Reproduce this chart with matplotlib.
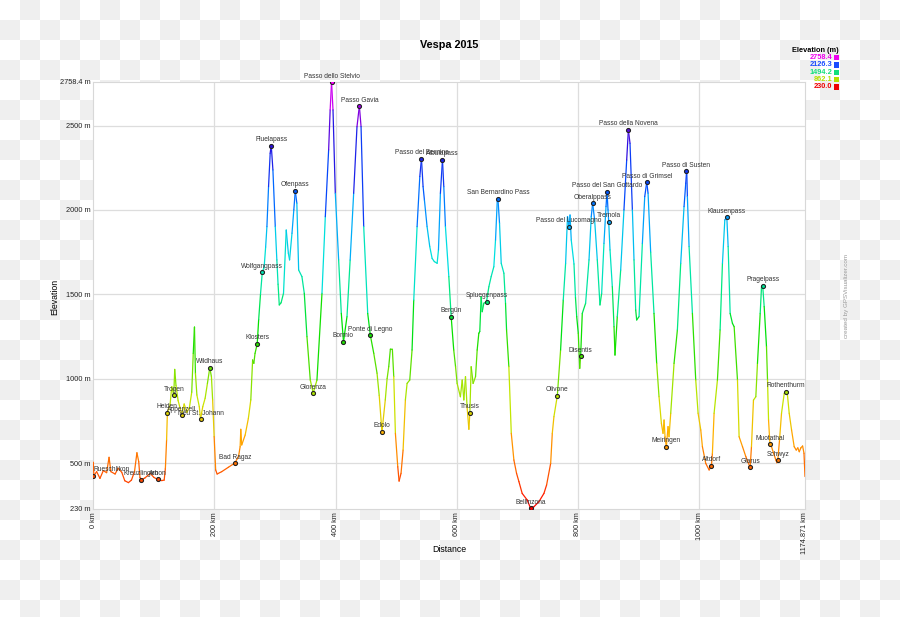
import numpy as np
import matplotlib
matplotlib.use("Agg")
import matplotlib.pyplot as plt
from matplotlib.collections import LineCollection
from matplotlib.colors import LinearSegmentedColormap, Normalize
from matplotlib.patches import Rectangle

plt.rcParams['font.family'] = ['Liberation Sans', 'DejaVu Sans']

# ---------------- data ----------------
dist_km = [0, 1, 5.5, 11, 16.5, 22, 26, 29, 36, 41, 47, 52, 58, 63, 68, 72, 75, 77, 79, 85, 94, 100, 106, 113, 117, 119, 121,
           122.3, 126.7, 129.5, 132.8, 134.4, 136.5, 140, 143, 146, 150, 154.5, 158.7, 162.5, 165, 167, 168.6, 171, 175, 177,
           180.7, 184.6, 188.4, 192.3, 195, 197, 199.5, 202, 204.4, 212, 223, 233.6, 239.7, 242.4, 243.5, 245, 250.7, 256,
           260, 263, 265, 267, 270.6, 273, 276, 279, 282, 284.5, 286.6, 289.3, 292, 293.7, 296.5, 300.4, 303, 305, 307,
           310, 314, 318.5, 322, 324, 328, 331, 333.4, 336, 339, 344.4, 348.3, 352.7, 358.2, 363, 369.2, 377.5, 383, 388.5,
           391, 393.3, 395.7, 399.5, 405, 409.4, 413, 418.8, 424, 429.8, 435.3, 439.2, 442, 446.4, 453, 457.4, 463, 468.4,
           472, 476.5, 482, 485, 487.7, 490.4, 493.7, 496, 498.7, 502.6, 504.8, 508, 511.4, 515.2, 518, 522.4, 526.2, 529,
           534.5, 539, 541.7, 544.4, 546.6, 551, 555.4, 559.3, 563, 567.6, 569.8, 573, 576.4, 578.6, 581.3, 586.9, 590.8,
           595, 598, 600.6, 606, 609, 611.7, 614.4, 617, 620, 621.6, 623.8, 627, 631, 633.7, 636.4, 638, 640.3, 642, 644.7,
           649.1, 653, 656.8, 661.2, 664, 666.8, 668, 670.6, 673.4, 677.8, 680.5, 682.2, 686, 690, 694.3, 698.7, 702.6, 708,
           716.3, 721.9, 727.4, 735.6, 743.9, 748.3, 755, 757.7, 760.4, 766, 771.4, 775.8, 779.7, 782.8, 785.2, 787, 789,
           793.5, 796, 798, 800.6, 803, 804.5, 807.2, 812.7, 818.3, 822, 824.3, 827.6, 832, 836.4, 839.2, 843, 846.4, 848,
           849.7, 850.8, 853, 856.8, 859.6, 861.2, 865, 870.6, 876, 880.5, 883.3, 886, 889.9, 892.6, 895.4, 897, 900.9, 906.4,
           910.3, 913.6, 915.8, 920.1, 925.6, 930, 933.9, 937.8, 940.5, 942.2, 943.8, 946, 948.8, 950.4, 953.2, 958.7, 964.2,
           969.7, 975.2, 978, 979.6, 980.7, 983.5, 989, 994.5, 998.4, 1002.8, 1005.5, 1011, 1016.6, 1020.4, 1022, 1024.8,
           1030.3, 1034.7, 1038.6, 1042.5, 1045.8, 1048, 1051.3, 1055.1, 1057.9, 1063.4, 1066.1, 1071.7, 1077.2, 1084.3,
           1086.5, 1089.8, 1093.7, 1096.4, 1100.9, 1103.1, 1105, 1107.5, 1111.3, 1113, 1114.7, 1117, 1119.6, 1123, 1126.8,
           1128.4, 1130, 1132.8, 1136.1, 1140.6, 1143.6, 1146, 1148.8, 1152.7, 1157, 1160.4, 1163, 1165.4, 1168, 1170.9,
           1173.2, 1174.871]
elev_m = [505, 425, 449, 409, 455, 443, 534, 449, 435, 469, 445, 395, 384, 399, 449, 561, 508, 415, 401, 411, 439, 415, 403, 396, 399, 469, 637,
          799, 844, 953, 901, 1055, 960, 870, 830, 783, 850, 800, 830, 920, 1150, 1306, 1032, 903, 834, 761,
          834, 884, 972, 1065, 1012, 874, 656, 459, 435, 449, 475, 500, 538, 597, 700, 607, 666, 765,
          874, 1111, 1091, 1150, 1206, 1350, 1500, 1632, 1660, 1780, 1901, 2138, 2336, 2385, 2237, 1901, 1704, 1560, 1437,
          1450, 1506, 1881, 1743, 1704, 1862, 2000, 2113, 2040, 1644, 1605, 1506, 1249, 992, 915, 992, 1506, 1960, 2356,
          2593, 2758, 2593, 2099, 1704, 1387, 1219, 1368, 1703, 2099, 2494, 2616, 2494, 1901, 1387, 1256, 1150, 1032,
          900, 684, 874, 1000, 1071, 1175, 1174, 1012, 676, 478, 393, 439, 577, 874, 972, 992, 1170, 1466,
          1901, 2198, 2304, 2138, 2059, 1901, 1783, 1713, 1694, 1684, 1763, 2099, 2298, 2138, 1901, 1605, 1366,
          1170, 1071, 972, 893, 992, 874, 1012, 834, 700, 797, 1071, 972, 1012, 1170, 1269, 1280, 1486, 1397, 1447,
          1457, 1545, 1605, 1664, 1822, 2049, 2066, 1921, 1684, 1625, 1447, 1289, 1071, 676, 518, 439, 390, 320,
          281, 232, 241, 271, 320, 370, 498, 676, 775, 899, 1170, 1466, 1684, 1961, 1901, 1970, 1822,
          1680, 1480, 1368, 1269, 1061, 1134, 1387, 1447, 1704, 1960, 2040, 1941, 1704, 1437, 1506, 1802, 2020, 2109,
          2000, 1931, 1763, 1545, 1308, 1140, 1368, 1644, 2000, 2296, 2474, 2395, 2000, 1704, 1407, 1348, 1368, 1802,
          2079, 2164, 2099, 1750, 1387, 1091, 893, 735, 676, 755, 656, 597, 716, 656, 795, 1091, 1289,
          1684, 2020, 2158, 2240, 2079, 1783, 1387, 992, 795, 696, 597, 498, 459, 484, 557, 795,
          992, 1289, 1684, 1941, 1957, 1783, 1387, 1328, 1308, 992, 656, 597, 538, 474,
          597, 873, 893, 1091, 1387, 1545, 1551, 1427, 1190, 992, 755, 611, 597, 558, 518,
          502, 518, 636, 795, 913, 923, 900, 795, 696, 597, 577, 590, 567, 590, 601,
          558, 420]

wp_names = ["Rueschlikon", "Kreuzlingen", "Arbon", "Heiden", "Trogen", "Appenzell", "Neu St. Johann", "Wildhaus",
            "Bad Ragaz", "Klosters", "Wolfgangpass", "Fluelapass", "Ofenpass", "Glorenza", "Passo dello Stelvio",
            "Bormio", "Passo Gavia", "Ponte di Legno", "Edolo", "Passo del Bernina", "Albulapass", "Bergün", "Thusis",
            "Spluegenpass", "San Bernardino Pass", "Bellinzona", "Olivone", "Passo del Lucomagno", "Disentis",
            "Oberalppass", "Passo del San Gottardo", "Tremola", "Passo della Novena", "Passo di Grimsel", "Meiringen",
            "Passo di Susten", "Altdorf", "Klausenpass", "Glarus", "Pragelpass", "Muotathal", "Schwyz", "Rothenthurm"]
wp_km = [0.3, 79, 106, 122.3, 132.8, 146, 177, 192.3, 233.6, 270.6, 279, 293.7, 333.4, 363, 393.3, 413, 439.2, 457.4,
         476.5, 541.7, 576.4, 590.8, 621.6, 649.1, 668, 721.9, 766, 785.2, 804.5, 824.3, 848, 850.8, 883.3, 913.6, 946,
         979.1, 1020.4, 1045.8, 1084.3, 1105, 1117, 1130, 1143.6]
wp_m = [425, 401, 403, 799, 901, 783, 761, 1065, 500, 1206, 1632, 2380, 2113, 915, 2758, 1219, 2616, 1256, 684, 2304,
        2298, 1366, 797, 1457, 2066, 232, 899, 1901, 1134, 2040, 2109, 1931, 2474, 2164, 597, 2229, 484, 1957, 474,
        1551, 611, 518, 923]

y_ticks = [230, 500, 1000, 1500, 2000, 2500, 2758.4]
y_tick_labels = ["230 m", "500 m", "1000 m", "1500 m", "2000 m", "2500 m", "2758.4 m"]
x_ticks = [0, 200, 400, 600, 800, 1000, 1174.871]
x_tick_labels = ["0 km", "200 km", "400 km", "600 km", "800 km", "1000 km", "1174.871 km"]
legend_values = ["2758.4", "2126.3", "1494.2", "862.1", "230.0"]
legend_colors = ["#ee00ee", "#1a4cff", "#12e07a", "#b4e000", "#ee0000"]

# ---------------- figure ----------------
W, H = 900, 617
fig = plt.figure(figsize=(W / 100, H / 100), dpi=100)

# transparency checkerboard background
bg = fig.add_axes([0, 0, 1, 1], zorder=-10)
ncol, nrow = 45, 31
ii, jj = np.meshgrid(np.arange(ncol), np.arange(nrow))
chk = ((ii + jj) % 2).astype(float)
bg.imshow(chk, cmap=LinearSegmentedColormap.from_list("chk", ["#ffffff", "#efefef"]),
          extent=[0, ncol * 20, nrow * 20, 0], interpolation="nearest", aspect="auto")
bg.set_xlim(0, W)
bg.set_ylim(H, 0)
bg.axis("off")

ax = fig.add_axes([93.3 / W, 1 - 508.6 / H, (805 - 93.3) / W, (508.6 - 82) / H])
ax.set_facecolor("white")
ymin, ymax = 230, 2758.4
ax.set_xlim(0, 1174.871)
ax.set_ylim(ymin, ymax)

for s in ax.spines.values():
    s.set_color("#d8d8d8")
    s.set_linewidth(0.8)

for v in [500, 1000, 1500, 2000, 2500]:
    ax.axhline(v, color="#dddddd", lw=0.9, zorder=0)
for v in [200, 400, 600, 800, 1000]:
    ax.axvline(v, color="#dddddd", lw=0.9, zorder=0)

ax.set_yticks(y_ticks)
ax.set_yticklabels(y_tick_labels, fontsize=5.3, color="#222222")
ax.set_xticks(x_ticks)
ax.set_xticklabels(x_tick_labels, fontsize=5.2, rotation=90, color="#222222")
ax.tick_params(axis="both", length=0)
ax.tick_params(axis="y", pad=2)
ax.tick_params(axis="x", pad=2.5)

cmap = LinearSegmentedColormap.from_list("elev", [
    (0.00, "#ff0000"), (0.10, "#ff6a00"), (0.18, "#ffb400"), (0.25, "#c8e600"),
    (0.35, "#4ee000"), (0.42, "#00e000"), (0.50, "#00e884"), (0.60, "#00e0e0"),
    (0.68, "#00a0ff"), (0.75, "#0050ff"), (0.85, "#2a10e0"), (0.93, "#8a00e0"),
    (1.00, "#ff00ff")])
norm = Normalize(ymin, ymax)

x = np.asarray(dist_km, float)
y = np.asarray(elev_m, float)
pts = np.column_stack([x, y]).reshape(-1, 1, 2)
segs = np.concatenate([pts[:-1], pts[1:]], axis=1)
lc = LineCollection(segs, cmap=cmap, norm=norm, linewidths=0.9, zorder=3, capstyle="round")
lc.set_array((y[:-1] + y[1:]) / 2)
ax.add_collection(lc)

for name, kx, ky in zip(wp_names, wp_km, wp_m):
    ax.plot(kx, ky, "o", ms=2.9, mfc=cmap(norm(ky)), mec="#222222", mew=0.8, zorder=5)
    ha = "left" if name == "Rueschlikon" else "center"
    ax.annotate(name, (kx, ky), xytext=(0, 1.8), textcoords="offset points",
                ha=ha, va="bottom", fontsize=4.8, color="#333333", zorder=6)

fig.text(449 / W, 1 - 549 / H, "Distance", ha="center", va="center", fontsize=6.3)
fig.text(55 / W, 1 - 297 / H, "Elevation", ha="center", va="center", fontsize=6.3, rotation=90)

fig.text(449 / W, 1 - 45 / H, "Vespa 2015", ha="center", va="center", fontsize=7.8, fontweight="bold")

# legend
fig.text(815 / W, 1 - 50 / H, "Elevation (m)", ha="center", va="center", fontsize=5.3, fontweight="bold")
for k, (lv, lcol) in enumerate(zip(legend_values, legend_colors)):
    yc = 57.7 + k * 7.3
    fig.text(832 / W, 1 - yc / H, lv, ha="right", va="center", fontsize=5.3, fontweight="bold", color=lcol)
    fig.patches.append(Rectangle((834 / W, 1 - (yc + 2.7) / H), 5.3 / W, 5.3 / H,
                                 transform=fig.transFigure, facecolor=lcol, edgecolor="none"))

fig.text(846.5 / W, 1 - 296 / H, "created by GPSVisualizer.com", rotation=90, ha="center", va="center",
         fontsize=4.5, color="#999999")

fig.savefig("out.png", dpi=100)
